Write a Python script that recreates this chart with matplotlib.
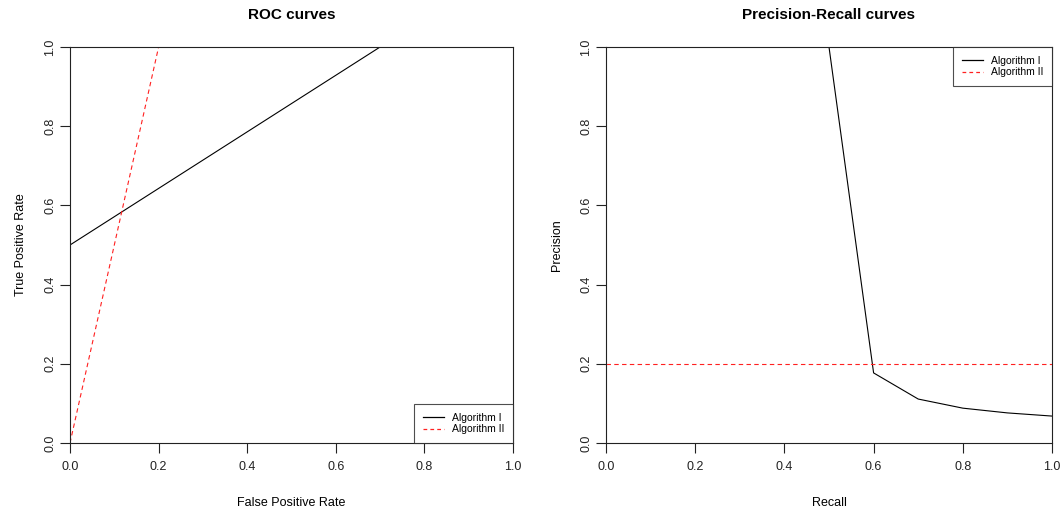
import matplotlib
matplotlib.use("Agg")
import matplotlib.pyplot as plt
from matplotlib.lines import Line2D

plt.rcParams['font.family'] = ['Liberation Sans', 'DejaVu Sans']

# ROC data
roc1_fpr = [0.0, 0.0, 0.7, 1.0]
roc1_tpr = [0.0, 0.5, 1.0, 1.0]
roc2_fpr = [0.0, 0.2, 1.0]
roc2_tpr = [0.0, 1.0, 1.0]

# PR data
pr1_recall = [0.0, 0.5, 0.6, 0.7, 0.8, 0.9, 1.0]
pr1_precision = [1.0, 1.0, 0.177, 0.111, 0.088, 0.076, 0.068]
pr2_recall = [0.0, 1.0]
pr2_precision = [0.2, 0.2]

ticks = [0.0, 0.2, 0.4, 0.6, 0.8, 1.0]
tick_labels = ["0.0", "0.2", "0.4", "0.6", "0.8", "1.0"]
series_names = ["Algorithm I", "Algorithm II"]

RED = '#ff2020'

fig = plt.figure(figsize=(10.62, 5.08), dpi=100)
ax1 = fig.add_axes([70/1062, 1-443/508, (513-70)/1062, (443-47)/508])
ax2 = fig.add_axes([606/1062, 1-443/508, (1052-606)/1062, (443-47)/508])

def style(ax, title, xlabel, ylabel):
    ax.set_xlim(0, 1)
    ax.set_ylim(0, 1)
    ax.set_xticks(ticks)
    ax.set_xticklabels(tick_labels)
    ax.set_yticks(ticks)
    ax.set_yticklabels(tick_labels, rotation=90, va='center')
    ax.tick_params(direction='out', length=7, width=0.8, labelsize=9,
                   colors='#222222')
    ax.tick_params(axis='x', pad=6)
    ax.tick_params(axis='y', pad=3)
    for s in ax.spines.values():
        s.set_linewidth(0.8)
        s.set_color('#222222')
    ax.set_title(title, fontsize=11, fontweight='bold', pad=20)
    ax.set_xlabel(xlabel, fontsize=9, labelpad=17)
    ax.set_ylabel(ylabel, fontsize=9, labelpad=12)

ax1.plot(roc1_fpr, roc1_tpr, color='black', lw=0.8)
ax1.plot(roc2_fpr, roc2_tpr, color=RED, lw=0.8, ls=(0, (4, 3)))
style(ax1, "ROC curves", "False Positive Rate", "True Positive Rate")

ax2.plot(pr1_recall, pr1_precision, color='black', lw=0.8)
ax2.plot(pr2_recall, pr2_precision, color=RED, lw=0.8, ls=(0, (4, 3)))
style(ax2, "Precision-Recall curves", "Recall", "Precision")

handles = [Line2D([], [], color='black', lw=0.9),
           Line2D([], [], color=RED, lw=0.9, ls=(0, (3, 2.5)))]
for ax, loc in ((ax1, 'lower right'), (ax2, 'upper right')):
    leg = ax.legend(handles, series_names, loc=loc, fontsize=7.5,
                    frameon=True, fancybox=False, borderaxespad=0,
                    handlelength=2.0, handletextpad=0.75, borderpad=0.85,
                    labelspacing=0.15)
    leg.get_frame().set_edgecolor('#222222')
    leg.get_frame().set_linewidth(0.8)

fig.savefig("out.png", dpi=100)
